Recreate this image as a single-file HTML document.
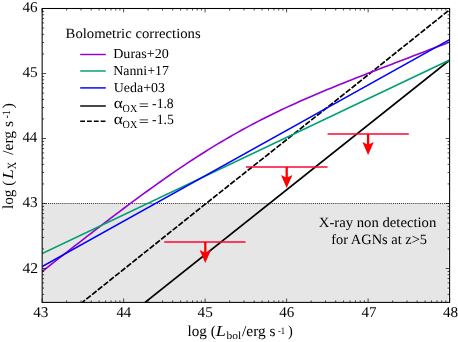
<!DOCTYPE html>
<html><head><meta charset="utf-8"><style>
html,body{margin:0;padding:0;background:#fff;}
body{width:458px;height:342px;overflow:hidden;}
svg{display:block;will-change:transform;text-rendering:geometricPrecision;font-family:"Liberation Serif",serif;fill:#000;}
</style></head><body>
<svg width="458" height="342" viewBox="0 0 458 342">
<rect width="458" height="342" fill="#fff"/>
<rect x="42.15" y="204.00" width="406.35" height="98.40" fill="#e6e6e6"/>
<path d="M42.15 203.50H449.60" stroke="#000" stroke-width="0.85" stroke-dasharray="1 0.95" fill="none"/>
<clipPath id="c"><rect x="42.15" y="8.50" width="407.45" height="293.90"/></clipPath>
<g clip-path="url(#c)" fill="none" stroke-width="1.6">
<path d="M145.05 302.40 L449.60 60.22" stroke="#000" stroke-width="1.7"/>
<path d="M82.30 302.40 L200.00 208.32 L340.00 97.32 L449.60 9.72" stroke="#000" stroke-width="1.7" stroke-dasharray="5.75 1.62" stroke-dashoffset="2.23"/>
<path d="M38.08 274.72 L42.15 271.50 L46.22 268.29 L50.30 265.09 L54.37 261.89 L58.45 258.69 L62.52 255.50 L66.60 252.31 L70.67 249.13 L74.75 245.95 L78.82 242.78 L82.90 239.62 L86.97 236.46 L91.04 233.32 L95.12 230.18 L99.19 227.05 L103.27 223.93 L107.34 220.82 L111.42 217.72 L115.49 214.63 L119.57 211.56 L123.64 208.50 L127.71 205.46 L131.79 202.43 L135.86 199.41 L139.94 196.42 L144.01 193.44 L148.09 190.48 L152.16 187.55 L156.24 184.63 L160.31 181.74 L164.39 178.87 L168.46 176.02 L172.53 173.20 L176.61 170.41 L180.68 167.64 L184.76 164.91 L188.83 162.20 L192.91 159.53 L196.98 156.88 L201.06 154.27 L205.13 151.70 L209.20 149.15 L213.28 146.64 L217.35 144.17 L221.43 141.73 L225.50 139.32 L229.58 136.96 L233.65 134.62 L237.73 132.33 L241.80 130.07 L245.88 127.84 L249.95 125.65 L254.02 123.49 L258.10 121.37 L262.17 119.28 L266.25 117.23 L270.32 115.20 L274.40 113.21 L278.47 111.24 L282.55 109.31 L286.62 107.40 L290.69 105.52 L294.77 103.66 L298.84 101.83 L302.92 100.02 L306.99 98.23 L311.07 96.47 L315.14 94.72 L319.22 92.99 L323.29 91.28 L327.37 89.59 L331.44 87.91 L335.51 86.24 L339.59 84.59 L343.66 82.95 L347.74 81.32 L351.81 79.70 L355.89 78.09 L359.96 76.49 L364.04 74.89 L368.11 73.31 L372.18 71.72 L376.26 70.15 L380.33 68.57 L384.41 67.01 L388.48 65.44 L392.56 63.88 L396.63 62.32 L400.71 60.76 L404.78 59.21 L408.86 57.65 L412.93 56.10 L417.00 54.54 L421.08 52.99 L425.15 51.43 L429.23 49.87 L433.30 48.32 L437.38 46.76 L441.45 45.20 L445.53 43.63 L449.60 42.07 L453.67 40.50" stroke="#9400d3"/>
<path d="M42.15 253.60 L449.60 60.00" stroke="#009e73"/>
<path d="M42.15 266.50 L449.60 39.60" stroke="#0000ff"/>
</g>
<path d="M164.20 242.00H245.60" stroke="#fc0536" stroke-width="1.6" fill="none"/><path d="M205.30 242.00V253.10" stroke="#ff0000" stroke-width="2.3" fill="none"/><path d="M205.30 262.90 L199.60 250.10 L205.30 252.80 L211.00 250.10 Z" fill="#ff0000"/><path d="M246.00 167.00H327.60" stroke="#fc0536" stroke-width="1.6" fill="none"/><path d="M286.70 167.00V178.10" stroke="#ff0000" stroke-width="2.3" fill="none"/><path d="M286.70 187.90 L281.00 175.10 L286.70 177.80 L292.40 175.10 Z" fill="#ff0000"/><path d="M327.60 134.00H408.80" stroke="#fc0536" stroke-width="1.6" fill="none"/><path d="M368.10 134.00V145.10" stroke="#ff0000" stroke-width="2.3" fill="none"/><path d="M368.10 154.90 L362.40 142.10 L368.10 144.80 L373.80 142.10 Z" fill="#ff0000"/>
<path d="M42.15 302.40v-3.90M42.15 8.50v3.90M66.68 302.40v-2.00M66.68 8.50v2.00M81.03 302.40v-2.00M81.03 8.50v2.00M91.21 302.40v-2.00M91.21 8.50v2.00M99.11 302.40v-2.00M99.11 8.50v2.00M105.56 302.40v-2.00M105.56 8.50v2.00M111.02 302.40v-2.00M111.02 8.50v2.00M115.74 302.40v-2.00M115.74 8.50v2.00M119.91 302.40v-2.00M119.91 8.50v2.00M123.64 302.40v-3.90M123.64 8.50v3.90M148.17 302.40v-2.00M148.17 8.50v2.00M162.52 302.40v-2.00M162.52 8.50v2.00M172.70 302.40v-2.00M172.70 8.50v2.00M180.60 302.40v-2.00M180.60 8.50v2.00M187.05 302.40v-2.00M187.05 8.50v2.00M192.51 302.40v-2.00M192.51 8.50v2.00M197.23 302.40v-2.00M197.23 8.50v2.00M201.40 302.40v-2.00M201.40 8.50v2.00M205.13 302.40v-3.90M205.13 8.50v3.90M229.66 302.40v-2.00M229.66 8.50v2.00M244.01 302.40v-2.00M244.01 8.50v2.00M254.19 302.40v-2.00M254.19 8.50v2.00M262.09 302.40v-2.00M262.09 8.50v2.00M268.54 302.40v-2.00M268.54 8.50v2.00M274.00 302.40v-2.00M274.00 8.50v2.00M278.72 302.40v-2.00M278.72 8.50v2.00M282.89 302.40v-2.00M282.89 8.50v2.00M286.62 302.40v-3.90M286.62 8.50v3.90M311.15 302.40v-2.00M311.15 8.50v2.00M325.50 302.40v-2.00M325.50 8.50v2.00M335.68 302.40v-2.00M335.68 8.50v2.00M343.58 302.40v-2.00M343.58 8.50v2.00M350.03 302.40v-2.00M350.03 8.50v2.00M355.49 302.40v-2.00M355.49 8.50v2.00M360.21 302.40v-2.00M360.21 8.50v2.00M364.38 302.40v-2.00M364.38 8.50v2.00M368.11 302.40v-3.90M368.11 8.50v3.90M392.64 302.40v-2.00M392.64 8.50v2.00M406.99 302.40v-2.00M406.99 8.50v2.00M417.17 302.40v-2.00M417.17 8.50v2.00M425.07 302.40v-2.00M425.07 8.50v2.00M431.52 302.40v-2.00M431.52 8.50v2.00M436.98 302.40v-2.00M436.98 8.50v2.00M441.70 302.40v-2.00M441.70 8.50v2.00M445.87 302.40v-2.00M445.87 8.50v2.00M449.60 302.40v-3.90M449.60 8.50v3.90M42.15 294.37h2.00M449.60 294.37h-2.00M42.15 288.07h2.00M449.60 288.07h-2.00M42.15 282.92h2.00M449.60 282.92h-2.00M42.15 278.57h2.00M449.60 278.57h-2.00M42.15 274.80h2.00M449.60 274.80h-2.00M42.15 271.47h2.00M449.60 271.47h-2.00M42.15 268.50h3.90M449.60 268.50h-3.90M42.15 248.93h2.00M449.60 248.93h-2.00M42.15 237.49h2.00M449.60 237.49h-2.00M42.15 229.37h2.00M449.60 229.37h-2.00M42.15 223.07h2.00M449.60 223.07h-2.00M42.15 217.92h2.00M449.60 217.92h-2.00M42.15 213.57h2.00M449.60 213.57h-2.00M42.15 209.80h2.00M449.60 209.80h-2.00M42.15 206.47h2.00M449.60 206.47h-2.00M42.15 203.50h3.90M449.60 203.50h-3.90M42.15 183.93h2.00M449.60 183.93h-2.00M42.15 172.49h2.00M449.60 172.49h-2.00M42.15 164.37h2.00M449.60 164.37h-2.00M42.15 158.07h2.00M449.60 158.07h-2.00M42.15 152.92h2.00M449.60 152.92h-2.00M42.15 148.57h2.00M449.60 148.57h-2.00M42.15 144.80h2.00M449.60 144.80h-2.00M42.15 141.47h2.00M449.60 141.47h-2.00M42.15 138.50h3.90M449.60 138.50h-3.90M42.15 118.93h2.00M449.60 118.93h-2.00M42.15 107.49h2.00M449.60 107.49h-2.00M42.15 99.37h2.00M449.60 99.37h-2.00M42.15 93.07h2.00M449.60 93.07h-2.00M42.15 87.92h2.00M449.60 87.92h-2.00M42.15 83.57h2.00M449.60 83.57h-2.00M42.15 79.80h2.00M449.60 79.80h-2.00M42.15 76.47h2.00M449.60 76.47h-2.00M42.15 73.50h3.90M449.60 73.50h-3.90M42.15 53.93h2.00M449.60 53.93h-2.00M42.15 42.49h2.00M449.60 42.49h-2.00M42.15 34.37h2.00M449.60 34.37h-2.00M42.15 28.07h2.00M449.60 28.07h-2.00M42.15 22.92h2.00M449.60 22.92h-2.00M42.15 18.57h2.00M449.60 18.57h-2.00M42.15 14.80h2.00M449.60 14.80h-2.00M42.15 11.47h2.00M449.60 11.47h-2.00M42.15 8.50h3.90M449.60 8.50h-3.90" stroke="#000" stroke-width="0.7" fill="none"/>
<rect x="42.15" y="8.50" width="407.45" height="293.90" fill="none" stroke="#000" stroke-width="1.05"/>
<path d="M80.2 54.50H105.8" stroke="#9400d3" stroke-width="1.45" fill="none"/><path d="M80.2 71.00H105.8" stroke="#009e73" stroke-width="1.45" fill="none"/><path d="M80.2 87.90H105.8" stroke="#0000ff" stroke-width="1.45" fill="none"/><path d="M80.2 106.00H105.8" stroke="#000" stroke-width="1.45" fill="none"/><path d="M80.2 121.20H105.8" stroke="#000" stroke-width="1.45" fill="none" stroke-dasharray="4.8 2.02"/>
<text transform="translate(33.15 317.00) scale(1.0127 1)" font-size="15.00">43</text>
<text transform="translate(116.41 317.00) scale(0.9881 1)" font-size="15.00">44</text>
<text transform="translate(197.55 317.00) scale(1.0127 1)" font-size="15.00">45</text>
<text transform="translate(279.18 317.00) scale(1.0028 1)" font-size="15.00">46</text>
<text transform="translate(361.46 317.00) scale(1.0018 1)" font-size="15.00">47</text>
<text transform="translate(442.95 317.00) scale(1.0116 1)" font-size="15.00">48</text>
<text transform="translate(22.40 273.05) scale(1.0375 1)" font-size="15.00">42</text>
<text transform="translate(22.40 206.85) scale(1.0198 1)" font-size="15.00">43</text>
<text transform="translate(22.41 142.15) scale(0.9950 1)" font-size="15.00">44</text>
<text transform="translate(22.40 76.95) scale(1.0198 1)" font-size="15.00">45</text>
<text transform="translate(22.40 12.25) scale(1.0098 1)" font-size="15.00">46</text>
<text transform="translate(65.58 37.80) scale(1.0429 1)" font-size="14.10">Bolometric corrections</text>
<text transform="translate(113.19 57.60) scale(1.0277 1)" font-size="13.70">Duras+20</text>
<text transform="translate(113.20 74.50) scale(1.0145 1)" font-size="13.70">Nanni+17</text>
<text transform="translate(113.81 91.90) scale(1.0160 1)" font-size="13.70">Ueda+03</text>
<text transform="translate(113.74 108.40) scale(1.1284 1)" font-size="15.30">α</text>
<text transform="translate(122.59 111.50) scale(0.9358 1)" font-size="10.80">OX</text>
<text transform="translate(138.81 109.60) scale(1.2561 1)" font-size="14.20">=</text>
<text transform="translate(152.09 108.40) scale(0.9621 1)" font-size="14.20">-1.8</text>
<text transform="translate(113.74 124.40) scale(1.1284 1)" font-size="15.30">α</text>
<text transform="translate(122.59 127.50) scale(0.9358 1)" font-size="10.80">OX</text>
<text transform="translate(138.81 125.60) scale(1.2561 1)" font-size="14.20">=</text>
<text transform="translate(152.09 124.40) scale(0.9627 1)" font-size="14.20">-1.5</text>
<text transform="translate(318.78 226.50) scale(1.0360 1)" font-size="14.20">X-ray non detection</text>
<text transform="translate(331.26 243.60) scale(1.0152 1)" font-size="14.20">for AGNs at z&gt;5</text>
<text transform="translate(187.50 335.70) scale(0.9902 1)" font-size="15.30">log (</text>
<text transform="translate(215.81 335.70) scale(1.1929 1)" font-size="15.30" font-style="italic">L</text>
<text transform="translate(226.50 338.60) scale(1.0699 1)" font-size="10.70">bol</text>
<text transform="translate(242.00 335.70) scale(1.0087 1)" font-size="15.30">/erg s</text>
<text transform="translate(277.98 333.70) scale(0.8562 1)" font-size="10.00">-1</text>
<text transform="translate(288.04 335.70) scale(0.9416 1)" font-size="15.30">)</text>
<text transform="translate(13.00 209.00) rotate(-90) scale(0.9902 1)" font-size="15.30">log (</text>
<text transform="translate(13.00 178.99) rotate(-90) scale(1.1678 1)" font-size="15.30" font-style="italic">L</text>
<text transform="translate(16.20 169.32) rotate(-90) scale(0.8092 1)" font-size="12.50">X</text>
<text transform="translate(13.00 154.80) rotate(-90) scale(1.0148 1)" font-size="15.30">/erg s</text>
<text transform="translate(10.20 118.57) rotate(-90) scale(0.8900 1)" font-size="11.30">-1</text>
<text transform="translate(13.00 108.53) rotate(-90) scale(1.0688 1)" font-size="15.30">)</text>
</svg>
</body></html>
